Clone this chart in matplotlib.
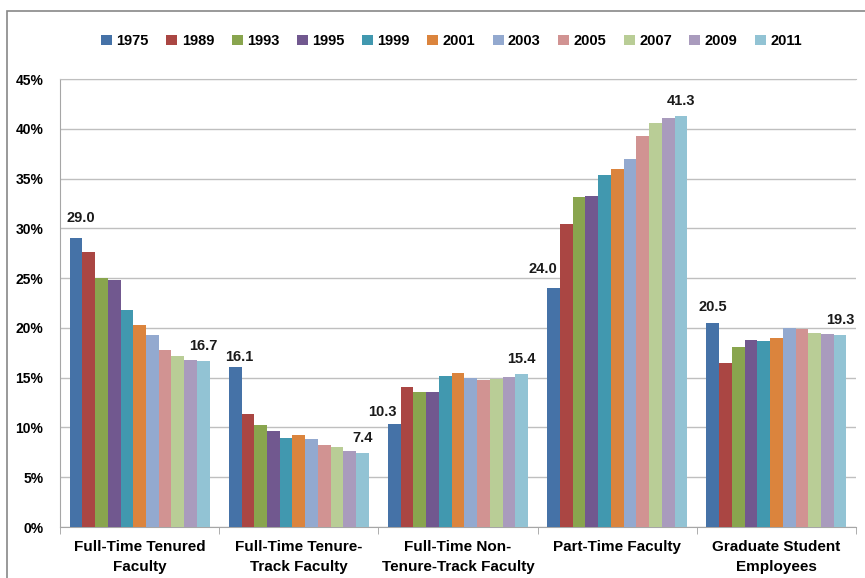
import numpy as np
import matplotlib
matplotlib.use('Agg')
import matplotlib.pyplot as plt
from matplotlib.patches import Rectangle

plt.rcParams['font.family'] = ['Liberation Sans', 'DejaVu Sans']
plt.rcParams['font.weight'] = 'bold'

categories = ['Full-Time Tenured\nFaculty', 'Full-Time Tenure-\nTrack Faculty',
              'Full-Time Non-\nTenure-Track Faculty', 'Part-Time Faculty',
              'Graduate Student\nEmployees']
years = ['1975', '1989', '1993', '1995', '1999', '2001', '2003', '2005', '2007', '2009', '2011']

# percent of instructional staff, one list per category (1975 .. 2011)
tenured     = [29.0, 27.6, 25.0, 24.8, 21.8, 20.3, 19.3, 17.8, 17.2, 16.8, 16.7]
tenure_trk  = [16.1, 11.4, 10.2, 9.6, 8.9, 9.2, 8.8, 8.2, 8.0, 7.6, 7.4]
non_tenure  = [10.3, 14.1, 13.6, 13.6, 15.2, 15.5, 15.0, 14.8, 14.9, 15.1, 15.4]
part_time   = [24.0, 30.4, 33.1, 33.2, 35.4, 36.0, 37.0, 39.3, 40.6, 41.1, 41.3]
grad_emp    = [20.5, 16.5, 18.1, 18.8, 18.7, 19.0, 20.0, 19.9, 19.5, 19.4, 19.3]

colors = ['#4572A7', '#AA4643', '#89A54E', '#71588F', '#4198AF', '#DB843D',
          '#93A9CF', '#D19392', '#B9CD96', '#A99BBD', '#92C3D4']

data = np.array([tenured, tenure_trk, non_tenure, part_time, grad_emp])

fig = plt.figure(figsize=(8.65, 5.78), dpi=100)
ax = fig.add_axes([0.0694, 0.0882, 0.9202, 0.7751])

x = np.arange(len(categories))
w = 0.08
for j, yr in enumerate(years):
    ax.bar(x + (j - 5) * w, data[:, j], width=w, color=colors[j], label=yr, zorder=3)

# labels on first and last year of each group, offsets in pixels
lab_off = {(0, 0): (5, 20), (0, 10): (0, 15),
           (1, 0): (4, 10), (1, 10): (0, 15),
           (2, 0): (-12, 12), (2, 10): (0, 15),
           (3, 0): (-11, 19), (3, 10): (0, 15),
           (4, 0): (0, 16), (4, 10): (0, 15)}
for (i, j), (dx, dy) in lab_off.items():
    v = data[i, j]
    ax.annotate('%.1f' % v, (x[i] + (j - 5) * w, v), xytext=(dx, dy),
                textcoords='offset pixels', ha='center', va='center',
                fontsize=10.5, fontweight='bold', color='#1a1a1a')

ax.set_xlim(-0.5, len(categories) - 0.5)
ax.set_ylim(0, 45)
ax.set_yticks(np.arange(0, 46, 5))
ax.set_yticklabels(['%d%%' % v for v in range(0, 46, 5)])
ax.yaxis.grid(True, color='#BFBFBF', linewidth=1, zorder=0)
ax.tick_params(axis='y', length=0, pad=12, labelsize=10)

ax.set_xticks(x)
ax.set_xticklabels(categories, fontsize=11, linespacing=1.55)
ax.set_xticks(np.arange(-0.5, len(categories), 1), minor=True)
ax.tick_params(axis='x', which='major', length=0, pad=9)
ax.tick_params(axis='x', which='minor', length=5, color='#A0A0A0')

for s in ['left', 'bottom', 'top']:
    ax.spines[s].set_color('#A6A6A6')
ax.spines['top'].set_color('#BFBFBF')
ax.spines['right'].set_visible(False)

fig.legend(loc='center', bbox_to_anchor=(0.522, 0.929), ncol=11, frameon=False,
           handlelength=0.75, handleheight=0.75, handletextpad=0.3,
           columnspacing=1.2, fontsize=10.5)

# chart border
fig.patches.append(Rectangle((7 / 865, -0.1), 1.2, 1 - 11 / 578 + 0.1,
                             transform=fig.transFigure, fill=False,
                             edgecolor='#878787', linewidth=1.2))

fig.savefig('out.png', dpi=100)
